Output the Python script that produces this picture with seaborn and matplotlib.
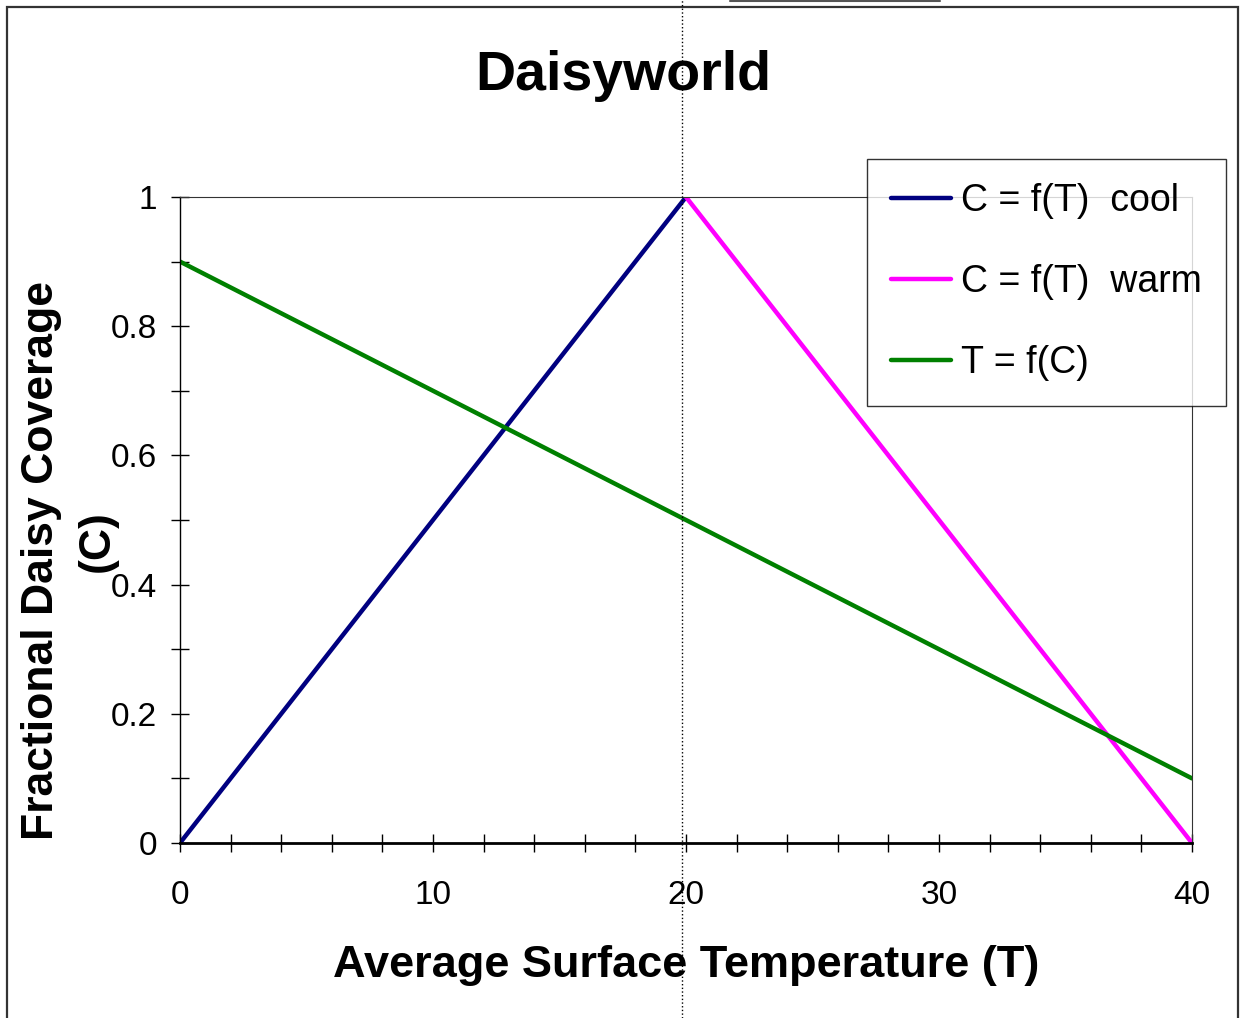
import numpy as np
import pandas as pd
import seaborn as sns
import matplotlib.pyplot as plt
from matplotlib.lines import Line2D
from matplotlib.patches import Rectangle
from matplotlib.ticker import MultipleLocator

# Daisyworld: coverage vs temperature
temp = [0, 2, 4, 6, 8, 10, 12, 14, 16, 18, 20, 22, 24, 26, 28, 30, 32, 34, 36, 38, 40]
cool_T = [0, 2, 4, 6, 8, 10, 12, 14, 16, 18, 20]
cool_C = [0.0, 0.1, 0.2, 0.3, 0.4, 0.5, 0.6, 0.7, 0.8, 0.9, 1.0]
warm_T = [20, 22, 24, 26, 28, 30, 32, 34, 36, 38, 40]
warm_C = [1.0, 0.9, 0.8, 0.7, 0.6, 0.5, 0.4, 0.3, 0.2, 0.1, 0.0]
tc_C = [0.90, 0.86, 0.82, 0.78, 0.74, 0.70, 0.66, 0.62, 0.58, 0.54, 0.50,
        0.46, 0.42, 0.38, 0.34, 0.30, 0.26, 0.22, 0.18, 0.14, 0.10]

sns.set_style('white')
plt.rcParams['font.family'] = ['Liberation Sans', 'DejaVu Sans']
plt.rcParams['text.color'] = 'black'
plt.rcParams['xtick.color'] = 'black'
plt.rcParams['ytick.color'] = 'black'

W, H = 1241, 1018
fig = plt.figure(figsize=(W / 100, H / 100), dpi=100)
ax = fig.add_axes([180 / W, 175 / H, 1012 / W, 646 / H])

sns.lineplot(x=cool_T, y=cool_C, ax=ax, color='#000080', lw=3.2, label='C = f(T)  cool')
sns.lineplot(x=warm_T, y=warm_C, ax=ax, color='#FF00FF', lw=3.2, label='C = f(T)  warm')
sns.lineplot(x=temp, y=tc_C, ax=ax, color='#008000', lw=3.2, label='T = f(C)')

ax.set_xlim(0, 40)
ax.set_ylim(0, 1)
ax.xaxis.set_major_locator(MultipleLocator(10))
ax.xaxis.set_minor_locator(MultipleLocator(2))
ax.yaxis.set_major_locator(MultipleLocator(0.2))
ax.yaxis.set_minor_locator(MultipleLocator(0.1))
ax.yaxis.set_major_formatter(plt.FuncFormatter(lambda v, p: f'{v:g}'))
ax.tick_params(which='both', bottom=True, left=True, direction='inout',
               length=13, width=1, color='black')
ax.tick_params(axis='x', labelsize=24, pad=20)
ax.tick_params(axis='y', labelsize=24, pad=10)

for s in ['top', 'right']:
    ax.spines[s].set_linewidth(0.8)
    ax.spines[s].set_color('#333333')
ax.spines['left'].set_linewidth(1)
ax.spines['left'].set_color('black')
ax.spines['bottom'].set_linewidth(2)
ax.spines['bottom'].set_color('black')

# titles placed on the figure like the spreadsheet chart
fig.text(623 / W, 1 - 90 / H, 'Daisyworld', fontsize=40, fontweight='bold',
         ha='center', va='baseline')
fig.text(686 / W, 1 - 977 / H, 'Average Surface Temperature (T)', fontsize=32.5,
         fontweight='bold', ha='center', va='baseline')
fig.text(42 / W, 1 - 561 / H, 'Fractional Daisy Coverage', fontsize=32,
         fontweight='bold', ha='center', va='center', rotation=90)
fig.text(97 / W, 1 - 541 / H, '(C)', fontsize=32, fontweight='bold',
         ha='center', va='center', rotation=90)

leg = ax.legend(loc='upper left', bbox_to_anchor=(687 / 1012, 1 + 38 / 646), fontsize=27,
                frameon=True, fancybox=False, shadow=False, handlelength=1.6,
                handletextpad=0.25, labelspacing=1.2, borderpad=0.65,
                borderaxespad=0)
leg.get_frame().set_edgecolor('black')
leg.get_frame().set_linewidth(1)
for h in leg.get_lines():
    h.set_linewidth(3.2)

# chart area border and dotted vertical line
fig.add_artist(Rectangle((7 / W, -0.01), 1231 / W, 1011 / H + 0.01,
                         transform=fig.transFigure, fill=False,
                         edgecolor='#333333', lw=1.6))
fig.add_artist(Line2D([682 / W, 682 / W], [0, 1], transform=fig.transFigure,
                      color='black', lw=1, ls=':'))
fig.add_artist(Line2D([730 / W, 940 / W], [0.999, 0.999], transform=fig.transFigure,
                      color='#555555', lw=1.5))

fig.savefig('out.png', dpi=100)
plt.close()
